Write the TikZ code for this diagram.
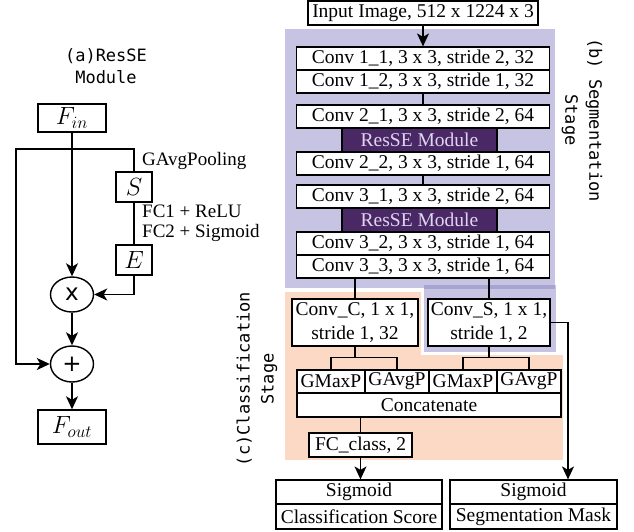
\documentclass[tikz,border=0pt]{standalone}
\usepackage{fontspec}
\setmainfont{Liberation Serif}
\newfontfamily\labfont{DejaVu Sans Mono}
\newfontfamily\symfont{DejaVu Sans}
\usetikzlibrary{arrows.meta,shapes.geometric}
\definecolor{lav}{RGB}{198,195,227}
\definecolor{lavdk}{RGB}{168,163,208}
\definecolor{rse}{RGB}{74,40,102}
\definecolor{rsetxt}{RGB}{222,214,238}
\definecolor{salm}{RGB}{251,217,197}
\begin{document}
\begin{tikzpicture}[x=1pt,y=-1pt,
  box/.style={draw, line width=1.2pt, fill=white, inner sep=0pt, align=center,
    font=\fontsize{19.5}{24}\selectfont},
  convbox/.style={box, minimum width=253pt, minimum height=23pt},
  rsebox/.style={box, fill=rse, text=rsetxt, minimum width=155pt, minimum height=24pt},
  poolbox/.style={box, minimum height=23pt},
  lbox/.style={draw, line width=1.4pt, fill=white, inner sep=0pt,
    font=\fontsize{25}{25}\selectfont},
  opnode/.style={ellipse, draw, line width=1.4pt, inner sep=0pt,
    minimum width=43pt, minimum height=35pt, font=\symfont\fontsize{23}{23}\selectfont},
  conn/.style={line width=1.2pt},
  lconn/.style={line width=1.6pt},
  arr/.style={-{Stealth[length=13pt,width=12pt,inset=3.5pt]}},
  note/.style={anchor=base west, inner sep=0pt, font=\fontsize{19}{19}\selectfont},
  title/.style={align=center, inner sep=0pt, font=\labfont\fontsize{17}{24}\selectfont}
]
\useasboundingbox (0,0) rectangle (634,531);

% backgrounds
\fill[lav] (285,29) rectangle (555,288);
\fill[lav] (424,285) rectangle (556,352);
\fill[lavdk] (424,285) rectangle (555,289);
\fill[salm] (285,292) rectangle (421,356);
\fill[salm] (285,355) rectangle (563,460);

% ---------- left: ResSE module ----------
\node[title, font=\labfont\fontsize{17}{22}\selectfont] (ta) at (106,66) {(a)ResSE\\Module};
\node[lbox, minimum width=68pt, minimum height=28pt] (fin) at (72,118) {$F_{in}$};
\node[lbox, minimum width=36pt, minimum height=30pt] (S) at (134,187) {$S$};
\node[lbox, minimum width=36pt, minimum height=30pt] (E) at (134,260) {$E$};
\node[opnode] (mul) at (72,294.5) {x};
\node[opnode, minimum height=36pt] (add) at (72,364) {+};
\node[lbox, minimum width=68pt, minimum height=34pt] (fout) at (72,427) {$F_{out}$};

\node[note] (gap) at (142,165) {GAvgPooling};
\node[note] (fc1) at (142,217) {FC1 + ReLU};
\node[note] (fc2) at (142,237) {FC2 + Sigmoid};

\coordinate (lt) at (16,149);
\draw[lconn, arr] (S.north) |- (lt) |- (add.west);
\draw[lconn] (S.south) -- (E.north);
\draw[lconn, arr] (E.south) |- (mul.east);
\draw[lconn, arr] (fin.south) -- (mul.north);
\draw[lconn, arr] (mul.south) -- (add.north);
\draw[lconn, arr] (add.south) -- (fout.north);

% ---------- right: segmentation stage ----------
\node[box, minimum width=230pt, minimum height=24pt] (inp) at (423,13) {Input Image, 512 x 1224 x 3};
\node[convbox] (c11) at (423,58.5) {Conv 1\_1, 3 x 3, stride 2, 32};
\node[convbox] (c12) at (423,81.5) {Conv 1\_2, 3 x 3, stride 1, 32};
\node[convbox] (c21) at (423,116.5) {Conv 2\_1, 3 x 3, stride 2, 64};
\node[rsebox] (r1) at (419.5,140) {ResSE Module};
\node[convbox] (c22) at (423,163.5) {Conv 2\_2, 3 x 3, stride 1, 64};
\node[convbox] (c31) at (423,196.5) {Conv 3\_1, 3 x 3, stride 2, 64};
\node[rsebox] (r2) at (419.5,220) {ResSE Module};
\node[convbox] (c32) at (423,243.5) {Conv 3\_2, 3 x 3, stride 1, 64};
\node[convbox] (c33) at (423,266.5) {Conv 3\_3, 3 x 3, stride 1, 64};

\node[title, rotate=-90] (tb) at (582,120) {(b) Segmentation\\Stage};
\node[title, rotate=90] (tc) at (257,379) {(c)Classification\\Stage};

\node[box, minimum width=126pt, minimum height=47pt] (convC) at (355,322.5) {Conv\_C, 1 x 1,\\stride 1, 32};
\node[box, minimum width=122pt, minimum height=47pt] (convS) at (489,322.5) {Conv\_S, 1 x 1,\\stride 1, 2};

\node[poolbox, minimum width=68pt] (gm1) at (331,381.5) {GMaxP};
\node[poolbox, minimum width=64pt] (ga1) at (397,381.5) {GAvgP};
\node[poolbox, minimum width=68pt] (gm2) at (463,381.5) {GMaxP};
\node[poolbox, minimum width=64pt] (ga2) at (529,381.5) {GAvgP};
\node[box, minimum width=264pt, minimum height=24pt] (cat) at (429,405) {Concatenate};
\node[box, minimum width=103pt, minimum height=24pt] (fc) at (360.5,445) {FC\_class, 2};

\node[box, minimum width=166pt, minimum height=24pt] (sig1) at (359,492) {Sigmoid};
\node[box, minimum width=166pt, minimum height=25pt] (cls) at (359,516.5) {Classification Score};
\node[box, minimum width=167pt, minimum height=24pt] (sig2) at (533.5,492) {Sigmoid};
\node[box, minimum width=167pt, minimum height=25pt] (seg) at (533.5,516.5) {Segmentation Mask};

% connectors
\draw[conn, arr] (inp.south) -- (c11.north);
\draw[conn] (c12.south) -- (c21.north);
\draw[conn] (c22.south) -- (c31.north);
\draw[conn] (convC.north) -- (convC.north |- c33.south);
\draw[conn] (convS.north) -- (convS.north |- c33.south);

\path (gm1.north) -- ++(0,-12) coordinate (barC);
\path (gm2.north) -- ++(0,-12) coordinate (barS);
\draw[conn] (convC.south) -- (convC.south |- barC);
\draw[conn] (gm1.north) -- (barC) -| (ga1.north);
\draw[conn] (convS.south) -- (convS.south |- barS);
\draw[conn] (gm2.north) -- (barS) -| (ga2.north);

\draw[conn] (cat.south -| fc.north) -- (fc.north);
\draw[conn, arr] (fc.south) -- (fc.south |- sig1.north);

\coordinate (sx) at (568,0);
\draw[conn, arr] (convS.east) -| (sx |- sig2.north);
\end{tikzpicture}
\end{document}
